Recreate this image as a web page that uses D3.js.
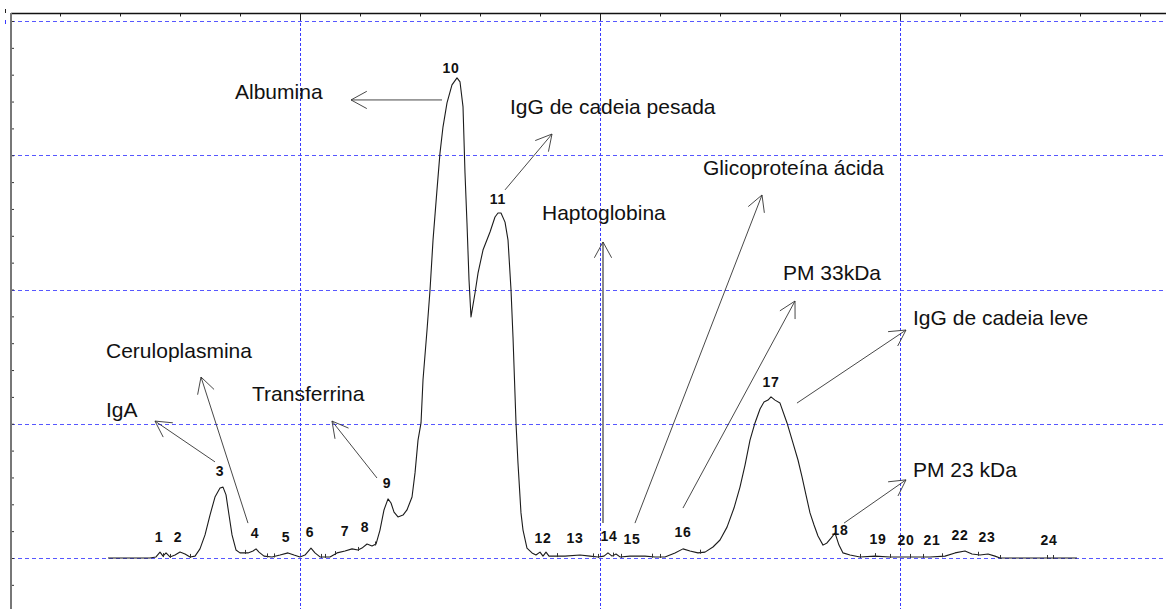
<!DOCTYPE html>
<html>
<head>
<meta charset="utf-8">
<script src="https://cdn.jsdelivr.net/npm/d3@7"></script>
<style>
  html, body { margin: 0; padding: 0; background: #fff; }
  svg { display: block; }
  text { font-family: Arial, "Liberation Sans", sans-serif; }
</style>
</head>
<body>
<svg id="chart" width="1166" height="609"></svg>
<script>
// Densitometric scan of an SDS-PAGE lane: migration (arbitrary units) vs. optical density
const migration = [
  1.80, 2.50, 2.60, 2.667, 2.717, 2.767, 2.833, 2.917, 3.0, 3.083, 3.167, 3.25, 3.333, 3.417, 3.5, 3.583,
  3.667, 3.717, 3.767, 3.817, 3.867, 3.933, 4.0, 4.133, 4.217, 4.267, 4.317, 4.40, 4.533, 4.667, 4.80, 4.90,
  5.0, 5.083, 5.183, 5.25, 5.333, 5.5, 5.617, 5.75, 5.867, 5.967, 6.033, 6.117, 6.2, 6.267, 6.333, 6.40,
  6.467, 6.517, 6.567, 6.633, 6.717, 6.783, 6.867, 6.917, 6.967, 7.017, 7.05, 7.117, 7.167, 7.217, 7.283, 7.333,
  7.383, 7.45, 7.533, 7.617, 7.667, 7.717, 7.75, 7.783, 7.817, 7.85, 7.917, 7.967, 8.05, 8.167, 8.25, 8.30,
  8.35, 8.417, 8.467, 8.517, 8.55, 8.60, 8.633, 8.683, 8.717, 8.783, 8.867, 8.933, 9.0, 9.05, 9.10, 9.15,
  9.25, 9.417, 9.667, 9.833, 9.967, 10.067, 10.133, 10.2, 10.267, 10.333, 10.5, 10.75, 10.917, 11.083, 11.25, 11.383,
  11.5, 11.633, 11.75, 11.883, 12.0, 12.117, 12.233, 12.333, 12.417, 12.5, 12.583, 12.667, 12.733, 12.80, 12.85, 12.917,
  13.0, 13.117, 13.217, 13.3, 13.367, 13.433, 13.5, 13.567, 13.633, 13.717, 13.783, 13.85, 13.917, 13.983, 14.05, 14.167,
  14.333, 14.583, 14.833, 15.167, 15.5, 15.75, 15.917, 16.083, 16.2, 16.333, 16.467, 16.583, 16.667, 17.95
];
const density = [
  0, 0, 0.04, 0.22, 0.07, 0.19, 0.04, 0.11, 0.22, 0.15, 0.04, 0.07, 0.34, 0.86, 1.60, 2.27,
  2.61, 2.64, 2.35, 1.60, 0.86, 0.30, 0.19, 0.19, 0.26, 0.34, 0.22, 0.07, 0.04, 0.11, 0.19, 0.11,
  0.04, 0.11, 0.37, 0.19, 0.04, 0.04, 0.19, 0.26, 0.34, 0.30, 0.37, 0.52, 0.45, 0.52, 1.04, 1.79,
  2.20, 2.05, 1.71, 1.53, 1.60, 1.79, 2.27, 3.17, 4.39, 5.03, 6.63, 8.49, 9.98, 11.84, 13.71, 15.08,
  16.05, 16.95, 17.62, 17.88, 17.73, 16.80, 14.34, 12.48, 10.35, 8.98, 9.87, 10.61, 11.47, 12.14, 12.70, 12.85,
  12.85, 12.51, 11.84, 9.98, 8.23, 5.03, 3.54, 1.68, 1.04, 0.37, 0.19, 0.11, 0.22, 0.07, 0.22, 0.07,
  0.07, 0.07, 0.11, 0.07, 0.04, 0.07, 0.19, 0.07, 0.15, 0.04, 0.07, 0.07, 0.04, 0.04, 0.19, 0.34,
  0.26, 0.19, 0.22, 0.41, 0.67, 1.15, 1.86, 2.64, 3.46, 4.39, 5.03, 5.55, 5.81, 5.88, 6.00, 5.88,
  5.77, 5.03, 4.28, 3.65, 3.02, 2.35, 1.68, 1.23, 0.82, 0.48, 0.56, 0.74, 0.93, 0.48, 0.19, 0.11,
  0.04, 0.07, 0.04, 0.04, 0.04, 0.07, 0.19, 0.26, 0.15, 0.11, 0.15, 0.07, 0, 0
];

// Band boundaries marked by the integration software
const bandBoundaries = [
  2.717, 2.833, 3.167, 4.083, 4.45, 4.567, 5.35, 5.417, 5.583, 5.967, 6.25,
  9.283, 9.883, 9.967, 10.217, 10.35, 10.867, 11.0, 11.667,
  14.333, 14.583, 14.833, 15.167, 15.383, 15.7, 16.3, 16.667, 17.45, 17.55
];

// Peak numbers and where each number sits
const peakNumbers = ["1","2","3","4","5","6","7","8","9","10","11","12","13","14","15","16","17","18","19","20","21","22","23","24"];
const peakLabelX = [2.65, 2.967, 3.667, 4.25, 4.767, 5.167, 5.75, 6.083, 6.45, 7.517, 8.30, 9.05, 9.583, 10.15, 10.533, 11.383, 12.85, 14.0, 14.633, 15.1, 15.533, 16.0, 16.45, 17.483];
const peakLabelY = [0.60, 0.60, 3.05, 0.74, 0.60, 0.78, 0.82, 0.97, 2.61, 18.06, 13.18, 0.56, 0.56, 0.63, 0.52, 0.78, 6.37, 0.86, 0.52, 0.48, 0.48, 0.67, 0.60, 0.48];

// Protein identifications: text anchor, arrow tail and arrow tip (data units)
const proteinNames = ["Albumina", "IgG de cadeia pesada", "Haptoglobina", "Glicoproteína ácida", "PM 33kDa",
  "IgG de cadeia leve", "PM 23 kDa", "Ceruloplasmina", "IgA", "Transferrina"];
const nameX = [3.917, 8.5, 9.033, 11.717, 13.05, 15.217, 15.217, 1.767, 1.767, 4.2];
const nameY = [17.09, 16.54, 12.59, 14.26, 10.35, 8.68, 3.02, 7.45, 5.25, 5.85];
const arrowFrom = [[7.367, 17.06], [8.417, 13.71], [10.05, 1.30], [10.583, 1.30], [11.383, 1.86],
  [13.283, 5.77], [14.067, 1.30], [4.133, 1.30], [3.583, 3.58], [6.283, 2.98]];
const arrowTo = [[5.85, 17.06], [9.2, 15.79], [10.05, 11.77], [12.7, 13.52], [13.25, 9.57],
  [15.1, 8.49], [15.1, 2.91], [3.35, 6.74], [2.583, 5.10], [5.533, 5.10]];

const W = 1166, H = 609;
const svg = d3.select("#chart");

const x = d3.scaleLinear().domain([0, W / 60]).range([0, W]);
const y = d3.scaleLinear().domain([0, 20]).range([558, 21]);
const plotLeft = 11, plotTop = 13;

// Grid
const gridColor = "#3a3aff";
svg.append("g").selectAll("line").data([0, 5, 10, 15, 20]).join("line")
  .attr("x1", plotLeft).attr("x2", W)
  .attr("y1", d => Math.round(y(d)) + 0.5).attr("y2", d => Math.round(y(d)) + 0.5)
  .attr("stroke", gridColor).attr("stroke-opacity", 0.85)
  .attr("stroke-dasharray", "4,3");
svg.append("g").selectAll("line").data([5, 10, 15]).join("line")
  .attr("x1", d => Math.round(x(d)) + 0.5).attr("x2", d => Math.round(x(d)) + 0.5)
  .attr("y1", plotTop).attr("y2", H)
  .attr("stroke", gridColor)
  .attr("stroke-dasharray", "3,2");

// Top axis with minor ticks and longer ticks at the grid positions
const topAxis = d3.axisBottom(x).tickValues(d3.range(1, 20)).tickSize(3).tickFormat("");
const gTop = svg.append("g").attr("transform", `translate(0,${plotTop + 0.5})`).call(topAxis);
gTop.select(".domain").remove();
gTop.selectAll(".tick line").attr("stroke", "#222")
  .attr("y2", d => (d % 5 === 0 ? 7 : 3));
svg.append("line").attr("x1", plotLeft).attr("x2", W)
  .attr("y1", plotTop + 0.5).attr("y2", plotTop + 0.5)
  .attr("stroke", "#111").attr("stroke-width", 1.5);

// Left axis
const leftAxis = d3.axisRight(y).tickValues(d3.range(-1, 21)).tickSize(3).tickFormat("");
const gLeft = svg.append("g").attr("transform", `translate(${plotLeft},0)`).call(leftAxis);
gLeft.select(".domain").remove();
gLeft.selectAll(".tick line").attr("stroke", "#333");
svg.append("line").attr("x1", plotLeft).attr("x2", plotLeft)
  .attr("y1", plotTop).attr("y2", H)
  .attr("stroke", "#777").attr("stroke-width", 2);

// Small marks at the top-left corner
svg.append("line").attr("x1", 5.5).attr("x2", 5.5).attr("y1", 9).attr("y2", 13).attr("stroke", "#222");
svg.append("line").attr("x1", 5.5).attr("x2", 5.5).attr("y1", 20).attr("y2", 24).attr("stroke", gridColor);

// Densitometry trace
const points = migration.map((m, i) => [m, density[i]]);
const line = d3.line().x(d => x(d[0])).y(d => y(d[1]));
svg.append("path").datum(points)
  .attr("d", line)
  .attr("fill", "none")
  .attr("stroke", "#1c1c1c")
  .attr("stroke-width", 1.1)
  .attr("stroke-linejoin", "round");

// Band boundary marks on the trace
const bis = d3.bisector(d => d[0]).left;
function densityAt(m) {
  const i = Math.max(1, Math.min(points.length - 1, bis(points, m)));
  const a = points[i - 1], b = points[i];
  const t = (m - a[0]) / (b[0] - a[0]);
  return a[1] + t * (b[1] - a[1]);
}
svg.append("g").selectAll("line").data(bandBoundaries).join("line")
  .attr("x1", d => Math.round(x(d)) + 0.5).attr("x2", d => Math.round(x(d)) + 0.5)
  .attr("y1", d => y(densityAt(d)) - 3).attr("y2", d => y(densityAt(d)) + 1)
  .attr("stroke", "#333");

// Peak numbers
svg.append("g").selectAll("text").data(peakNumbers).join("text")
  .attr("x", (d, i) => x(peakLabelX[i]))
  .attr("y", (d, i) => y(peakLabelY[i]))
  .attr("text-anchor", "middle")
  .attr("font-size", 14).attr("font-weight", "bold")
  .attr("letter-spacing", 0.8)
  .attr("fill", "#111")
  .text(d => d);

// Arrows pointing from bands to their identification
function arrow(g, from, to, shaftColor, shaftWidth) {
  const x1 = x(from[0]), y1 = y(from[1]), x2 = x(to[0]), y2 = y(to[1]);
  const ang = Math.atan2(y2 - y1, x2 - x1);
  const len = 18, spread = 0.5;
  g.append("line").attr("x1", x1).attr("y1", y1).attr("x2", x2).attr("y2", y2)
    .attr("stroke", shaftColor).attr("stroke-width", shaftWidth);
  [-spread, spread].forEach(s => {
    g.append("line").attr("x1", x2).attr("y1", y2)
      .attr("x2", x2 - len * Math.cos(ang + s)).attr("y2", y2 - len * Math.sin(ang + s))
      .attr("stroke", "#333").attr("stroke-width", 0.9);
  });
}
const gArrows = svg.append("g");
proteinNames.forEach((name, i) => {
  const hapto = name === "Haptoglobina";
  arrow(gArrows, arrowFrom[i], arrowTo[i], hapto ? "#8a8a8a" : "#333", hapto ? 2 : 0.9);
});

// Protein names
svg.append("g").selectAll("text").data(proteinNames).join("text")
  .attr("x", (d, i) => x(nameX[i]))
  .attr("y", (d, i) => y(nameY[i]))
  .attr("font-size", 21)
  .attr("fill", "#111")
  .text(d => d);
</script>
</body>
</html>
